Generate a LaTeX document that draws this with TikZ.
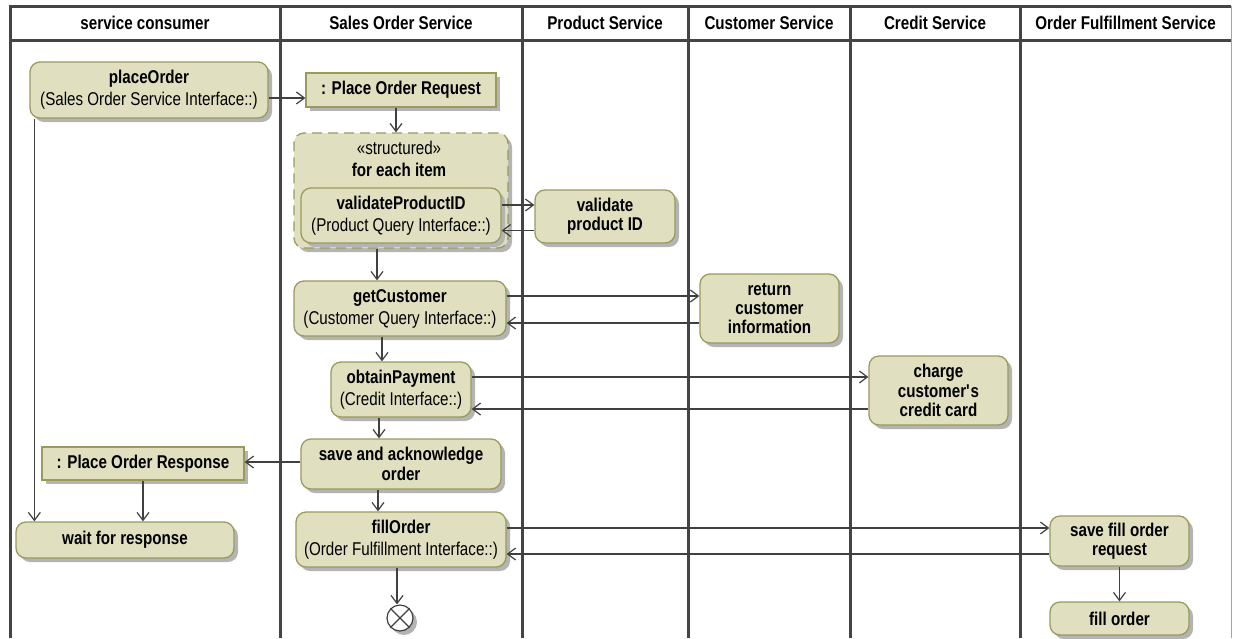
\documentclass[tikz,border=0pt]{standalone}
\usepackage{fontspec}
\setmainfont{Liberation Sans}[FakeStretch=0.82]
\usetikzlibrary{arrows.meta,shadows,calc}
\definecolor{actfill}{HTML}{E0E0C0}
\definecolor{actline}{HTML}{9A9A5C}
\definecolor{wire}{HTML}{404040}
\definecolor{shade}{HTML}{B4B4B4}
\definecolor{laneink}{HTML}{444444}
\begin{document}
\begin{tikzpicture}[x=1pt,y=-1pt,
  every node/.style={font=\fontsize{18.5}{19.3}\selectfont, inner sep=0pt, align=center},
  shadowed/.style={drop shadow={shadow xshift=4pt,shadow yshift=-4pt,fill=shade,opacity=1}},
  act/.style={shadowed, draw=actline, fill=actfill, line width=1.3pt, rounded corners=10pt},
  obj/.style={shadowed, draw=actline, fill=actfill, line width=1.3pt},
  region/.style={shadowed, draw=actline, fill=actfill, line width=1.3pt, dash pattern=on 10pt off 6pt, rounded corners=10pt},
  flow/.style={draw=wire, line width=1.2pt, -{Straight Barb[length=8pt,width=12pt]}},
  laneline/.style={draw=laneink, line width=3pt},
  sz/.style 2 args={minimum width=#1pt, minimum height=#2pt},
]
\useasboundingbox (0,0) rectangle (1233,638);

% swimlane frame
\draw[line width=1pt, black!35] (1231,6) -- (1231,638);
\draw[laneline] (10,638) -- (10,6) -- (1231,6);
\draw[laneline] (10,40) -- (1231,40);
\foreach \x in {280,522,688,850,1020}
  \draw[laneline] (\x,6) -- (\x,638);

% lane titles
\node (hConsumer)  at (145,23)    {\bfseries service consumer};
\node (hSales)     at (401,23)    {\bfseries Sales Order Service};
\node (hProduct)   at (605,23)    {\bfseries Product Service};
\node (hCustomer)  at (769,23)    {\bfseries Customer Service};
\node (hCredit)    at (935,23)    {\bfseries Credit Service};
\node (hFulfil)    at (1125.5,23) {\bfseries Order Fulfillment Service};

% service consumer lane
\node[act, sz={238}{56}] (placeOrder) at (149,90)
  {\bfseries placeOrder\\[2.7pt](Sales Order Service Interface::)};
\node[obj, sz={202}{33}] (resp) at (143,463.5) {\bfseries : Place Order Response};
\node[act, sz={218}{36}] (wait) at (125,540) {\bfseries wait for response};

% sales order service lane
\node[obj, sz={190}{34}] (req) at (401,90) {\bfseries : Place Order Request};
\node[region, sz={214}{115}] (loop) at (401,190.5) {};
\node (loopKind) at (399,148) {«structured»};
\node (loopName) at (399,170) {\bfseries for each item};
\node[act, sz={200}{55}] (vpid) at (401,215.5)
  {\bfseries validateProductID\\[2.7pt](Product Query Interface::)};
\node[act, sz={212}{55}] (getC) at (400,308.5)
  {\bfseries getCustomer\\[2.7pt](Customer Query Interface::)};
\node[act, sz={140}{55}] (obtP) at (401,389.5)
  {\bfseries obtainPayment\\[2.7pt](Credit Interface::)};
\node[act, sz={200}{50}] (save) at (401,464) {\bfseries save and acknowledge\\\bfseries order};
\node[act, sz={210}{55}] (fillO) at (401,539.5)
  {\bfseries fillOrder\\[2.7pt](Order Fulfillment Interface::)};
\node[circle, shadowed, draw=wire, fill=white, line width=1.2pt, minimum size=26pt] (final) at (400,618) {};
\draw[wire, line width=1.2pt] (final.45) -- (final.225) (final.135) -- (final.315);

% provider lanes
\node[act, sz={140}{53}] (checkID) at (605,216.5) {\bfseries validate\\\bfseries product ID};
\node[act, sz={139}{69}] (retC) at (769.5,308.5) {\bfseries return\\\bfseries customer\\\bfseries information};
\node[act, sz={139}{69}] (charge) at (938.5,390.5) {\bfseries charge\\\bfseries customer\textquotesingle s\\\bfseries credit card};
\node[act, sz={139}{50}] (saveFill) at (1119.5,541) {\bfseries save fill order\\\bfseries request};
\node[act, sz={139}{33}] (fillIt) at (1119.5,618.5) {\bfseries fill order};

% control and object flows
\draw[flow] ($(placeOrder.east)+(0,8)$) -- ($(req.west)+(0,8)$);
\draw[flow] ($(req.south)+(-5,0)$) -- ($(loop.north)+(-5,0)$);
\draw[flow] ($(vpid.east)+(0,-10.5)$) -- ($(checkID.west)+(0,-11.5)$);
\draw[flow] ($(checkID.west)+(0,14)$) -- ($(vpid.east)+(0,15)$);
\draw[flow] ($(loop.south)+(-24,0)$) -- ($(getC.north)+(-23,0)$);
\draw[flow] ($(getC.east)+(0,-12.5)$) -- ($(retC.west)+(0,-12.5)$);
\draw[flow] ($(retC.west)+(0,14.5)$) -- ($(getC.east)+(0,14.5)$);
\draw[flow] ($(getC.south)+(-18,0)$) -- ($(obtP.north)+(-19,0)$);
\draw[flow] ($(obtP.east)+(0,-12.5)$) -- ($(charge.west)+(0,-13.5)$);
\draw[flow] ($(charge.west)+(0,18.5)$) -- ($(obtP.east)+(0,19.5)$);
\draw[flow] ($(obtP.south)+(-22,0)$) -- ($(save.north)+(-22,0)$);
\draw[flow] ($(save.west)+(0,-2)$) -- ($(resp.east)+(0,-1.5)$);
\draw[flow] (resp.south) -- ($(wait.north)+(18,0)$);
\draw[flow] ($(placeOrder.south west)+(5,0)$) -- ($(wait.north west)+(19,0)$);
\draw[flow] ($(save.south)+(-23,0)$) -- ($(fillO.north)+(-23,0)$);
\draw[flow] ($(fillO.east)+(0,-11.5)$) -- ($(saveFill.west)+(0,-13)$);
\draw[flow] ($(saveFill.west)+(0,13)$) -- ($(fillO.east)+(0,14.5)$);
\draw[flow] (saveFill.south) -- (fillIt.north);
\draw[flow] ($(fillO.south)+(-4,0)$) -- ($(final.north)+(-3,0)$);
\end{tikzpicture}
\end{document}
